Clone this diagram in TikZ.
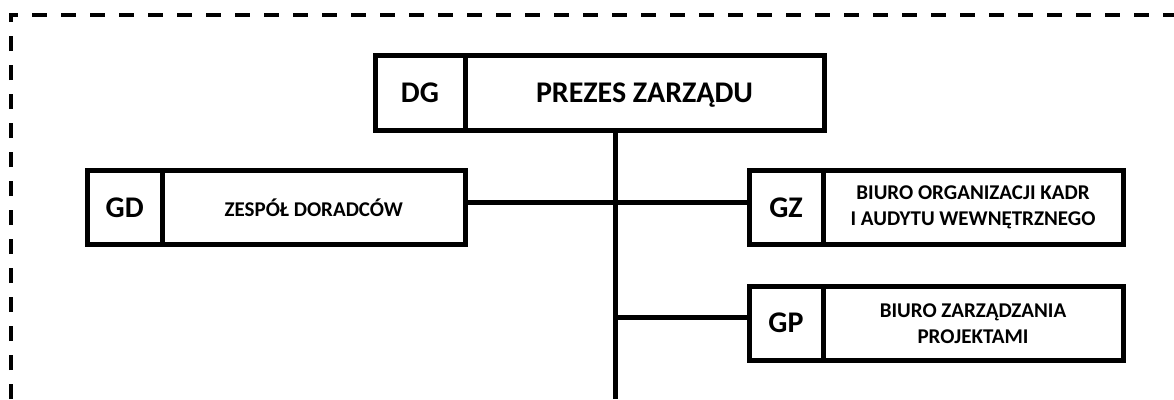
\documentclass[tikz,border=0pt]{standalone}
\usepackage{fontspec}
\setmainfont{Carlito}
\tikzset{
  unitbox/.style={draw=black, line width=5pt, rectangle, inner sep=0pt, align=center, font=\bfseries},
  bigtxt/.style={font=\fontsize{30}{36}\selectfont\bfseries, text height=19.3pt, text depth=0pt},
  smalltxt/.style={font=\fontsize{21}{26}\selectfont\bfseries},
  link/.style={draw=black, line width=5pt},
  frame/.style={draw=black, line width=4pt, dash pattern=on 15pt off 14pt}
}
\begin{document}
\begin{tikzpicture}[x=1pt, y=-1pt]
\useasboundingbox (0,0) rectangle (1174,399);
% frame
\coordinate (fbl) at (10.5,399);
\coordinate (ftl) at (10.5,14.5);
\coordinate (ftr) at (1174,14.5);
\draw[frame] (fbl) -- (ftl) -- (ftr);
% top box
\node[unitbox, bigtxt, minimum width=90pt, minimum height=75pt] (dgcode) at (420,93) {DG};
\node[unitbox, bigtxt, minimum width=359pt, minimum height=75pt] (dgname) at (644.5,93) {PREZES ZARZĄDU};
% GD
\node[unitbox, bigtxt, minimum width=75.5pt, minimum height=74pt] (gdcode) at (124.75,207.5) {GD};
\node[unitbox, smalltxt, minimum width=302.5pt, minimum height=74pt] (gdname) at (313.75,207.5) {ZESPÓŁ DORADCÓW};
% GZ
\node[unitbox, bigtxt, minimum width=74pt, minimum height=74pt] (gzcode) at (786,207.5) {GZ};
\node[unitbox, smalltxt, minimum width=300pt, minimum height=74pt] (gzname) at (973,207.5) {BIURO ORGANIZACJI KADR\\I AUDYTU WEWNĘTRZNEGO};
% GP
\node[unitbox, bigtxt, minimum width=74pt, minimum height=73.5pt] (gpcode) at (786,323.25) {GP};
\node[unitbox, smalltxt, minimum width=300pt, minimum height=73.5pt] (gpname) at (973,323.25) {BIURO ZARZĄDZANIA\\PROJEKTAMI};
% connectors
\coordinate (trunkend) at (615,399);
\draw[link] (dgname.south -| trunkend) -- (trunkend);
\draw[link] ([yshift=5pt]gdname.east) -- ([yshift=5pt]gzcode.west);
\draw[link] ([yshift=6pt]gpcode.west -| trunkend) -- ([yshift=6pt]gpcode.west);
\end{tikzpicture}
\end{document}
